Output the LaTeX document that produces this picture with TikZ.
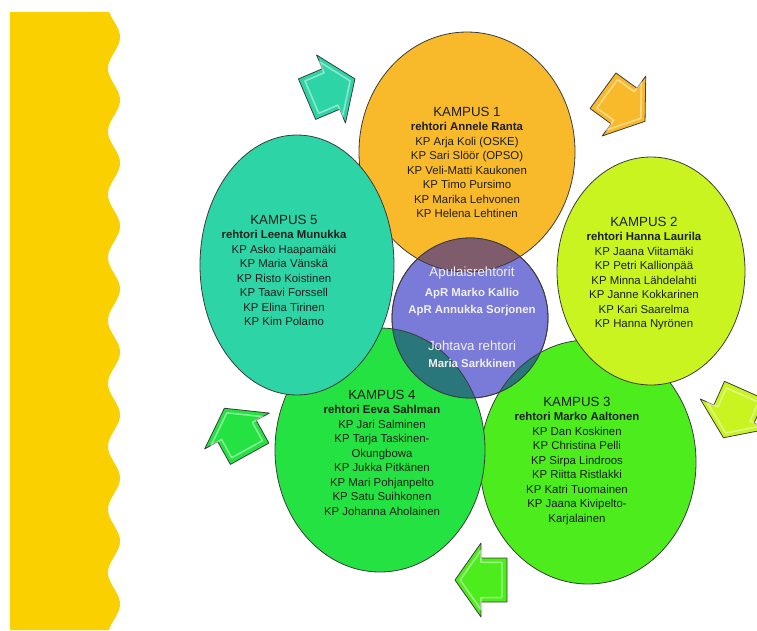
\documentclass[tikz,border=0pt]{standalone}
\usepackage{fontspec}
\setmainfont{Liberation Sans}
\usetikzlibrary{shapes.geometric}

\definecolor{band}{HTML}{FAD000}
\definecolor{k1fill}{HTML}{F8BA2B}
\definecolor{k2fill}{HTML}{C9F41F}
\definecolor{k3fill}{HTML}{4DEC1C}
\definecolor{k4fill}{HTML}{24E241}
\definecolor{k5fill}{HTML}{2DD4A5}
\definecolor{hubfill}{HTML}{7A7AD8}
\definecolor{hubwarm}{HTML}{7E5C6C}
\definecolor{hubcool}{HTML}{29777B}
\definecolor{rim}{HTML}{3C3C3C}
\definecolor{ink}{HTML}{1E1E1E}

\begin{document}
\begin{tikzpicture}[x=1pt, y=1pt,
    campus/.style={ellipse, draw=rim, line width=0.8pt, inner sep=0pt},
    roster/.style={align=center, anchor=north, inner sep=0pt, text=ink,
                   font=\fontsize{11.4}{14.5}\selectfont},
    hubtext/.style={roster, text=white!94!black, font=\fontsize{11.4}{17}\selectfont},
    flowarrow/.pic={
        \filldraw[pic actions, draw=rim, line width=0.8pt, line join=round]
            (-26,-22) -- (0,-22) -- (0,-37) -- (26,0) -- (0,37) -- (0,22) -- (-26,22) -- cycle;
        \draw[white, opacity=0.45, line width=1.6pt, line join=round, scale=0.8]
            (-26,-22) -- (0,-22) -- (0,-37) -- (26,0) -- (0,37) -- (0,22) -- (-26,22) -- cycle;
    },
]
\useasboundingbox (0,0) rectangle (757,-630);

% wavy side band
\fill[band] (10,-12) -- plot[domain=12:630, samples=240, variable=\t]
    ({114+6*cos(5.714*(\t-37))}, -\t) -- (10,-630) -- cycle;

% arrows between the campuses
\pic[fill=k5fill, rotate=23] at (331,-89) {flowarrow};
\pic[fill=k1fill, rotate=-36] at (624,-106) {flowarrow};
\pic[fill=k2fill, rotate=-114] at (734,-414) {flowarrow};
\pic[fill=k3fill, rotate=180] at (481,-580) {flowarrow};
\pic[fill=k4fill, rotate=119] at (237,-431) {flowarrow};

% campus circles
\node[campus, fill=k3fill, minimum width=216, minimum height=244] (k3) at (588,-462) {};
\node[campus, fill=k2fill, minimum width=188, minimum height=228] (k2) at (651,-271) {};
\node[campus, fill=k1fill, minimum width=216, minimum height=240] (k1) at (467,-152) {};
\node[campus, fill=k4fill, minimum width=210, minimum height=244] (k4) at (380,-450) {};
\node[campus, fill=k5fill, minimum width=194, minimum height=260] (k5) at (297,-265) {};

% management in the middle
\node[campus, fill=hubfill, minimum width=156, minimum height=160] (hub) at (470,-318) {};
\begin{scope}
  \clip (k1.center) ellipse [x radius=108, y radius=120];
  \fill[hubwarm] (hub.center) ellipse [x radius=78, y radius=80];
\end{scope}
\begin{scope}
  \clip (k4.center) ellipse [x radius=105, y radius=122];
  \fill[hubcool] (hub.center) ellipse [x radius=78, y radius=80];
\end{scope}
\begin{scope}
  \clip (k3.center) ellipse [x radius=108, y radius=122];
  \fill[hubcool] (hub.center) ellipse [x radius=78, y radius=80];
\end{scope}
\begin{scope}
  \clip (hub.center) ellipse [x radius=78, y radius=80];
  \draw[rim, line width=0.8pt] (k1.center) ellipse [x radius=108, y radius=120]
                               (k4.center) ellipse [x radius=105, y radius=122]
                               (k3.center) ellipse [x radius=108, y radius=122];
\end{scope}
\draw[rim, line width=0.8pt] (hub.center) ellipse [x radius=78, y radius=80];

\node[roster] (t1) at (467,-107) {{\fontsize{13.3}{15}\selectfont KAMPUS 1}\\
  \textbf{rehtori Annele Ranta}\\ KP Arja Koli (OSKE)\\ KP Sari Slöör (OPSO)\\
  KP Veli-Matti Kaukonen\\ KP Timo Pursimo\\ KP Marika Lehvonen\\ KP Helena Lehtinen};
\node[roster] (t2) at (644,-217) {{\fontsize{13.3}{15}\selectfont KAMPUS 2}\\
  \textbf{rehtori Hanna Laurila}\\ KP Jaana Viitamäki\\ KP Petri Kallionpää\\
  KP Minna Lähdelahti\\ KP Janne Kokkarinen\\ KP Kari Saarelma\\ KP Hanna Nyrönen};
\node[roster] (t3) at (577,-397) {{\fontsize{13.3}{15}\selectfont KAMPUS 3}\\
  \textbf{rehtori Marko Aaltonen}\\ KP Dan Koskinen\\ KP Christina Pelli\\
  KP Sirpa Lindroos\\ KP Riitta Ristlakki\\ KP Katri Tuomainen\\
  KP Jaana Kivipelto-\\ Karjalainen};
\node[roster] (t4) at (382,-390) {{\fontsize{13.3}{15}\selectfont KAMPUS 4}\\
  \textbf{rehtori Eeva Sahlman}\\ KP Jari Salminen\\ KP Tarja Taskinen-\\ Okungbowa\\
  KP Jukka Pitkänen\\ KP Mari Pohjanpelto\\ KP Satu Suihkonen\\ KP Johanna Aholainen};
\node[roster] (t5) at (284,-215) {{\fontsize{13.3}{15}\selectfont KAMPUS 5}\\
  \textbf{rehtori Leena Munukka}\\ KP Asko Haapamäki\\ KP Maria Vänskä\\
  KP Risto Koistinen\\ KP Taavi Forssell\\ KP Elina Tirinen\\ KP Kim Polamo};

\node[hubtext] (deputies) at (472,-267) {{\fontsize{13.3}{15}\selectfont Apulaisrehtorit}\\[3pt]
  \textbf{ApR Marko Kallio}\\ \textbf{ApR Annukka Sorjonen}};
\node[hubtext] (head) at (472,-341) {{\fontsize{13.3}{15}\selectfont Johtava rehtori}\\
  \textbf{Maria Sarkkinen}};
\end{tikzpicture}
\end{document}
